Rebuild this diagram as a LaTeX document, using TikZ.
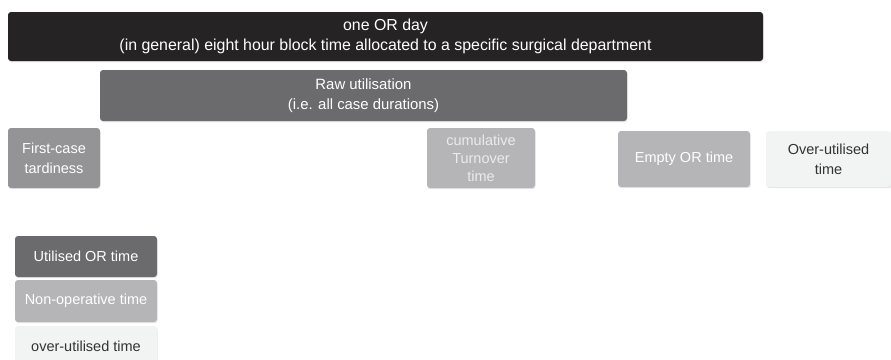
\documentclass[tikz,border=0pt]{standalone}
\usepackage{fontspec}
\setmainfont{Liberation Sans}
\usetikzlibrary{shadows}
\definecolor{dayblack}{HTML}{262324}
\definecolor{rawgrey}{HTML}{6B6B6D}
\definecolor{tardygrey}{HTML}{949497}
\definecolor{nonopgrey}{HTML}{B5B5B7}
\definecolor{overgrey}{HTML}{F2F3F3}
\tikzset{
  block/.style={rounded corners=3pt,inner sep=0pt,align=center,text=white,
    font=\fontsize{14.5}{18}\selectfont,
    drop shadow={opacity=.2,shadow xshift=.6pt,shadow yshift=-1.2pt}},
  blk/.style 2 args={block,fill=#1,minimum width=#2},
}
\begin{document}
\begin{tikzpicture}[x=1pt,y=-1pt]
	\useasboundingbox(0,0)rectangle(891,359);
	\node[blk={dayblack}{755pt},minimum height=49pt,font=\fontsize{15.9}{20.5}\selectfont](day)at(385.5,36.5)
		{one OR day\\(in general) eight hour block time allocated to a specific surgical department};
	\node[blk={rawgrey}{527pt},minimum height=51pt,font=\fontsize{14.9}{20}\selectfont](raw)at(363.5,95.5)
		{Raw utilisation\\(i.e. all case durations)};
	\node[blk={tardygrey}{92pt},minimum height=60pt,font=\fontsize{14.5}{20}\selectfont](tardy)at(54,158)
		{First-case\\tardiness};
	\node[blk={nonopgrey}{108pt},minimum height=60pt,text=white!92!black](turnover)at(481,158)
		{cumulative\\Turnover\\time};
	\node[blk={nonopgrey}{132pt},minimum height=56pt](empty)at(684,159){Empty OR time};
	\node[blk={overgrey}{125pt},minimum height=56pt,text=black!80,font=\fontsize{14.5}{20}\selectfont](over)at(828.5,159)
		{Over-utilised\\time};
	% legend
	\node[blk={rawgrey}{142pt},minimum height=41pt](lutil)at(86,256.5){Utilised OR time};
	\node[blk={nonopgrey}{142pt},minimum height=42pt](lnonop)at(86,301){Non-operative time};
	\node[blk={overgrey}{142pt},minimum height=40pt,text=black!80](lover)at(86,346){over-utilised time};
\end{tikzpicture}
\end{document}
